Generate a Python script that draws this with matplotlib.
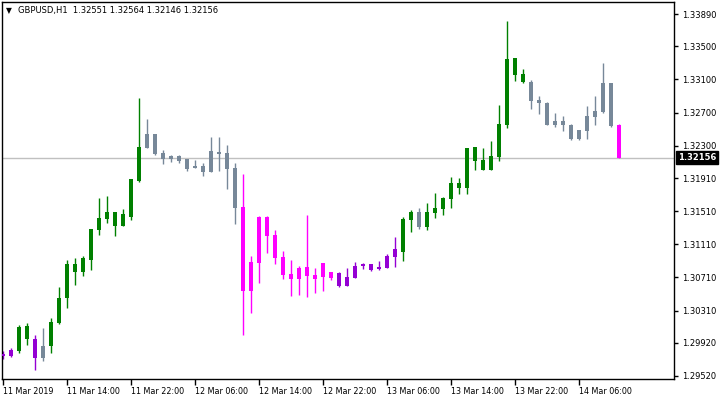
import matplotlib
matplotlib.use("Agg")
import matplotlib.pyplot as plt
import numpy as np

# ---------------- data ----------------
tick_labels_x = ["11 Mar 2019", "11 Mar 14:00", "11 Mar 22:00", "12 Mar 06:00",
                 "12 Mar 14:00", "12 Mar 22:00", "13 Mar 06:00", "13 Mar 14:00",
                 "13 Mar 22:00", "14 Mar 06:00"]
tick_values_y = [1.33890, 1.33500, 1.33100, 1.32700, 1.32300, 1.31910,
                 1.31510, 1.31110, 1.30710, 1.30310, 1.29920, 1.29520]

opens = [1.29786, 1.29765, 1.29825, 1.30124, 1.29967, 1.29741, 1.29886, 1.30163,
         1.30465, 1.30872, 1.30779, 1.30924, 1.31286, 1.31419, 1.31500, 1.31334,
         1.31443, 1.31878, 1.32276, 1.32441, 1.32212, 1.32143, 1.32176, 1.32140,
         1.32035, 1.32055, 1.31986, 1.32224, 1.32212, 1.32031, 1.31560, 1.30550,
         1.30888, 1.31439, 1.31222, 1.30957, 1.30751, 1.30694, 1.30836, 1.30739,
         1.30719, 1.30775, 1.30763, 1.30610, 1.30707, 1.30848, 1.30872, 1.30812,
         1.30827, 1.30957, 1.31020, 1.31407, 1.31500, 1.31322, 1.31491, 1.31540,
         1.31660, 1.31850, 1.31793, 1.32284, 1.32127, 1.32010, 1.32164, 1.32554,
         1.33359, 1.33166, 1.33069, 1.32852, 1.32816, 1.32550, 1.32598, 1.32550,
         1.32385, 1.32478, 1.32647, 1.32711, 1.33057, 1.32551]
highs = [1.29816, 1.29858, 1.30136, 1.30160, 1.30015, 1.30099, 1.30220, 1.30594,
         1.30920, 1.30944, 1.30969, 1.31295, 1.31669, 1.31693, 1.31500, 1.31536,
         1.31898, 1.32876, 1.32622, 1.32441, 1.32248, 1.32188, 1.32188, 1.32140,
         1.32127, 1.32091, 1.32405, 1.32405, 1.32309, 1.32091, 1.31962, 1.30969,
         1.31451, 1.31451, 1.31282, 1.31029, 1.30920, 1.30848, 1.31464, 1.30824,
         1.30884, 1.30775, 1.30775, 1.30824, 1.30896, 1.30884, 1.30872, 1.30908,
         1.30993, 1.31198, 1.31436, 1.31524, 1.31548, 1.31608, 1.31729, 1.31681,
         1.31922, 1.31910, 1.32272, 1.32284, 1.32272, 1.32357, 1.32791, 1.33805,
         1.33359, 1.33226, 1.33093, 1.32904, 1.32828, 1.32695, 1.32659, 1.32562,
         1.32490, 1.32779, 1.32900, 1.33298, 1.33057, 1.32564]
lows = [1.29731, 1.29753, 1.29801, 1.29898, 1.29596, 1.29705, 1.29801, 1.30151,
        1.30344, 1.30622, 1.30731, 1.30803, 1.31226, 1.31371, 1.31214, 1.31334,
        1.31407, 1.31866, 1.32276, 1.32188, 1.32083, 1.32107, 1.32095, 1.31998,
        1.32035, 1.31938, 1.31986, 1.31998, 1.31781, 1.31359, 1.30019, 1.30284,
        1.30646, 1.31008, 1.30876, 1.30694, 1.30489, 1.30501, 1.30477, 1.30526,
        1.30550, 1.30682, 1.30598, 1.30610, 1.30707, 1.30812, 1.30788, 1.30800,
        1.30827, 1.30839, 1.30912, 1.31262, 1.31298, 1.31286, 1.31431, 1.31467,
        1.31552, 1.31721, 1.31721, 1.32010, 1.32010, 1.32010, 1.32115, 1.32517,
        1.33085, 1.33061, 1.32747, 1.32686, 1.32546, 1.32526, 1.32478, 1.32373,
        1.32373, 1.32385, 1.32550, 1.32695, 1.32526, 1.32146]
closes = [1.29765, 1.29834, 1.30111, 1.29970, 1.29741, 1.29882, 1.30172, 1.30462,
          1.30872, 1.30779, 1.30944, 1.31295, 1.31427, 1.31500, 1.31334, 1.31476,
          1.31898, 1.32284, 1.32441, 1.32200, 1.32143, 1.32176, 1.32119, 1.32023,
          1.32055, 1.31986, 1.32236, 1.32204, 1.32023, 1.31552, 1.30550, 1.30896,
          1.31439, 1.31214, 1.30948, 1.30743, 1.30694, 1.30824, 1.30731, 1.30694,
          1.30884, 1.30707, 1.30610, 1.30719, 1.30848, 1.30872, 1.30800, 1.30836,
          1.30969, 1.31053, 1.31415, 1.31500, 1.31322, 1.31500, 1.31548, 1.31669,
          1.31850, 1.31793, 1.32272, 1.32119, 1.32010, 1.32176, 1.32562, 1.33347,
          1.33157, 1.33073, 1.32843, 1.32819, 1.32554, 1.32598, 1.32550, 1.32385,
          1.32490, 1.32659, 1.32719, 1.33057, 1.32534, 1.32156]
# trend state per candle: P=purple, G=green, S=slate gray, M=magenta
states = (["P"] * 2 + ["G"] * 2 + ["P"] + ["S"] + ["G"] * 12 + ["S"] * 12 +
          ["M"] * 12 + ["P"] * 8 + ["G"] * 2 + ["S"] + ["G"] * 13 + ["S"] * 11 +
          ["M"])
current_price = 1.32156
title_text = "GBPUSD,H1  1.32551 1.32564 1.32146 1.32156"

# ---------------- style ----------------
colors = {"G": "#008000", "S": "#778899", "M": "#FF00FF", "P": "#9400D3"}
W, H = 720, 400
fig = plt.figure(figsize=(W / 100, H / 100), dpi=100)
left_px, right_px, top_px, bottom_px = 2, 674, 2, 379
ax = fig.add_axes([left_px / W, 1 - bottom_px / H,
                   (right_px - left_px) / W, (bottom_px - top_px) / H])

n = len(opens)
x = np.arange(n)
cols = [colors[s] for s in states]
o = np.array(opens); c = np.array(closes)
hi = np.array(highs); lo = np.array(lows)

ax.axhline(current_price, color="#C0C0C0", lw=1, zorder=1)
ax.vlines(x, lo, hi, colors=cols, lw=1, zorder=2)
body_bottom = np.minimum(o, c)
body_h = np.maximum(np.abs(c - o), 0.00013)
ax.bar(x, body_h, bottom=body_bottom, width=0.62, color=cols, lw=0, zorder=3)

ax.set_xlim(-0.125, 83.875)
ax.set_ylim(1.294837, 1.340349)

fs = 6.0
ax.yaxis.tick_right()
ax.set_yticks(tick_values_y)
ax.set_yticklabels([f"{v:.5f}" for v in tick_values_y])
ax.tick_params(axis="y", direction="out", length=3, width=1, pad=3,
               labelsize=fs, colors="black")
ax.set_xticks(np.arange(0, 8 * len(tick_labels_x), 8))
ax.set_xticklabels(tick_labels_x)
ax.tick_params(axis="x", direction="out", length=4, width=1, pad=2,
               labelsize=5.8, colors="black")
for lbl in ax.get_xticklabels():
    lbl.set_horizontalalignment("left")

for sp in ax.spines.values():
    sp.set_color("black")
    sp.set_linewidth(1)

ax.text(4 / (right_px - left_px), 1 - 9 / (bottom_px - top_px), "\u25BC",
        transform=ax.transAxes, fontsize=5.5, va="center", ha="left", color="black")
ax.text(16 / (right_px - left_px), 1 - 9 / (bottom_px - top_px), title_text,
        transform=ax.transAxes, fontsize=fs, va="center", ha="left", color="black")

ax.text(1.0 + 4 / (right_px - left_px), current_price, f"{current_price:.5f}",
        transform=ax.get_yaxis_transform(), fontsize=fs, va="center", ha="left",
        color="white", fontweight="bold",
        bbox=dict(boxstyle="square,pad=0.25", fc="black", ec="black"), zorder=5,
        clip_on=False)

fig.savefig("out.png", dpi=100)
